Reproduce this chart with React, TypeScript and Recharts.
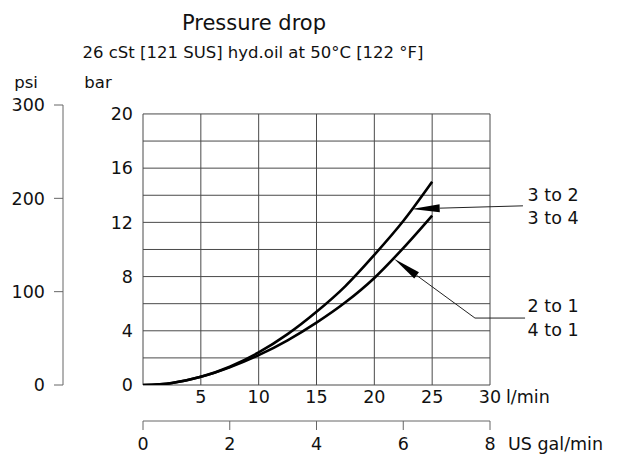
import React from 'react';
import {
  LineChart,
  Line,
  XAxis,
  YAxis,
  ReferenceLine,
  ReferenceDot,
} from 'recharts'

// flow in l/min, pressure drop in bar
const flow = [0, 2.5, 5, 7.5, 10, 12.5, 15, 17.5, 20, 22.5, 25]
const drop32 = [0, 0.15, 0.6, 1.35, 2.4, 3.75, 5.4, 7.3, 9.6, 12.1, 15.0]
const drop21 = [0, 0.15, 0.6, 1.3, 2.2, 3.3, 4.6, 6.1, 7.9, 10.1, 12.5]

const flowTicks = [5, 10, 15, 20, 25, 30]
const galTicks = [0, 2, 4, 6, 8]
const barTicks = [0, 4, 8, 12, 16, 20]
const psiTicks = [0, 100, 200, 300]

const gridFlow = [0, 5, 10, 15, 20, 25, 30]
const gridBar = [0, 2, 4, 6, 8, 10, 12, 14, 16, 18, 20]

// leader lines (data coords): arrow tip on the curve -> label
const arrowUpper = [{x: 23.23, y: 12.99}, {x: 32.85, y: 13.22}]
const arrowLower = [{x: 21.7, y: 9.31}, {x: 28.7, y: 4.94}]
const leaderLower = [{x: 28.7, y: 4.94}, {x: 33.03, y: 4.94}]

const curveLabels = [
  {text: '3 to 2', x: 33.25, y: 14.0},
  {text: '3 to 4', x: 33.25, y: 12.3},
  {text: '2 to 1', x: 33.25, y: 5.85},
  {text: '4 to 1', x: 33.25, y: 4.08},
]

const data = flow.map((f, i) => ({flow: f, a: drop32[i], b: drop21[i]}))

const FONT = '"DejaVu Sans", Verdana, sans-serif'
const INK = '#111'
const GRID = '#4a4a4a'
const FS = 17.5

const ArrowShape = (props: any) => {
  const {x1, y1, x2, y2} = props
  const dx = x2 - x1
  const dy = y2 - y1
  const len = Math.sqrt(dx * dx + dy * dy) || 1
  const ux = dx / len
  const uy = dy / len
  const head = 28
  const w = 4
  const bx = x1 + ux * head
  const by = y1 + uy * head
  return (
    <g>
      <polygon
        points={`${x1},${y1} ${bx - uy * w},${by + ux * w} ${bx + uy * w},${by - ux * w}`}
        fill="#000"
      />
      <line x1={bx} y1={by} x2={x2} y2={y2} stroke="#222" strokeWidth={1} />
    </g>
  )
}

const PlainLine = (props: any) => {
  const {x1, y1, x2, y2} = props
  return <line x1={x1} y1={y1} x2={x2} y2={y2} stroke="#222" strokeWidth={1} />
}

const makeTick = (last: number, unit: string, unitGap: number) => (props: any) => {
  const {x, y, payload} = props
  return (
    <g>
      <text x={x} y={y} dy="0.71em" textAnchor="middle" fontSize={FS} fill={INK} fontFamily={FONT}>
        {payload.value}
      </text>
      {payload.value === last && (
        <text x={x + unitGap} y={y} dy="0.71em" textAnchor="start" fontSize={FS} fill={INK} fontFamily={FONT}>
          {unit}
        </text>
      )}
    </g>
  )
}

const FlowTick = makeTick(30, 'l/min', 16)
const GalTick = makeTick(8, 'US gal/min', 18)

const labelStyle: React.CSSProperties = {
  position: 'absolute',
  fontFamily: FONT,
  color: INK,
  whiteSpace: 'nowrap',
  transform: 'translate(-50%, -50%)',
}

const App: React.FC = () => {
  return (
    <div style={{position: 'absolute', left: 0, top: 0, width: 619, height: 454, background: '#fff'}}>
      <div style={{...labelStyle, left: 254, top: 23, fontSize: 21}}>Pressure drop</div>
      <div style={{...labelStyle, left: 253, top: 52, fontSize: 16.5}}>26 cSt [121 SUS] hyd.oil at 50°C [122 °F]</div>
      <div style={{...labelStyle, left: 26, top: 82, fontSize: 16.5}}>psi</div>
      <div style={{...labelStyle, left: 98, top: 82, fontSize: 16.5}}>bar</div>

      <LineChart
        width={619}
        height={454}
        data={data}
        margin={{top: 105, right: 129, bottom: 0, left: 0}}
        style={{position: 'absolute', left: 0, top: 0, overflow: 'visible'}}
      >
        <XAxis
          xAxisId="flow"
          dataKey="flow"
          type="number"
          domain={[0, 30]}
          ticks={flowTicks}
          axisLine={false}
          tickLine={false}
          tickSize={0}
          tickMargin={6}
          height={36}
          tick={<FlowTick />}
          allowDataOverflow
        />
        <XAxis
          xAxisId="gal"
          dataKey="flow"
          type="number"
          domain={[0, 8]}
          ticks={galTicks}
          axisLine={{stroke: '#666'}}
          tickLine={{stroke: '#666'}}
          tickSize={9}
          tickMargin={8}
          height={33}
          tick={<GalTick />}
          allowDataOverflow
        />
        <YAxis
          yAxisId="bar"
          type="number"
          domain={[0, 20.66]}
          ticks={barTicks}
          axisLine={false}
          tickLine={false}
          tickSize={0}
          tickMargin={10}
          width={80}
          tick={{fontSize: FS, fill: INK, fontFamily: FONT}}
          allowDataOverflow
        />
        <YAxis
          yAxisId="psi"
          type="number"
          domain={[0, 300]}
          ticks={psiTicks}
          axisLine={{stroke: '#666'}}
          tickLine={{stroke: '#666'}}
          tickSize={9}
          tickMargin={9}
          width={63}
          tick={{fontSize: FS, fill: INK, fontFamily: FONT}}
          allowDataOverflow
        />

        {gridFlow.map(v => (
          <ReferenceLine
            key={`v${v}`}
            xAxisId="flow"
            yAxisId="bar"
            segment={[{x: v, y: 0}, {x: v, y: 20}]}
            stroke={GRID}
            strokeWidth={1}
            ifOverflow="visible"
          />
        ))}
        {gridBar.map(v => (
          <ReferenceLine
            key={`h${v}`}
            xAxisId="flow"
            yAxisId="bar"
            segment={[{x: 0, y: v}, {x: 30, y: v}]}
            stroke={GRID}
            strokeWidth={1}
            ifOverflow="visible"
          />
        ))}

        <Line
          xAxisId="flow"
          yAxisId="bar"
          dataKey="a"
          type="monotone"
          stroke="#000"
          strokeWidth={2.6}
          dot={false}
          isAnimationActive={false}
        />
        <Line
          xAxisId="flow"
          yAxisId="bar"
          dataKey="b"
          type="monotone"
          stroke="#000"
          strokeWidth={2.6}
          dot={false}
          isAnimationActive={false}
        />

        <ReferenceLine xAxisId="flow" yAxisId="bar" segment={arrowUpper} shape={ArrowShape} ifOverflow="visible" />
        <ReferenceLine xAxisId="flow" yAxisId="bar" segment={arrowLower} shape={ArrowShape} ifOverflow="visible" />
        <ReferenceLine xAxisId="flow" yAxisId="bar" segment={leaderLower} shape={PlainLine} ifOverflow="visible" />

        {curveLabels.map(l => (
          <ReferenceDot
            key={l.text}
            xAxisId="flow"
            yAxisId="bar"
            x={l.x}
            y={l.y}
            ifOverflow="visible"
            shape={(p: any) => (
              <text x={p.cx} y={p.cy} dy="0.35em" textAnchor="start" fontSize={FS} fill={INK} fontFamily={FONT}>
                {l.text}
              </text>
            )}
          />
        ))}
      </LineChart>
    </div>
  )
};

export default App;
